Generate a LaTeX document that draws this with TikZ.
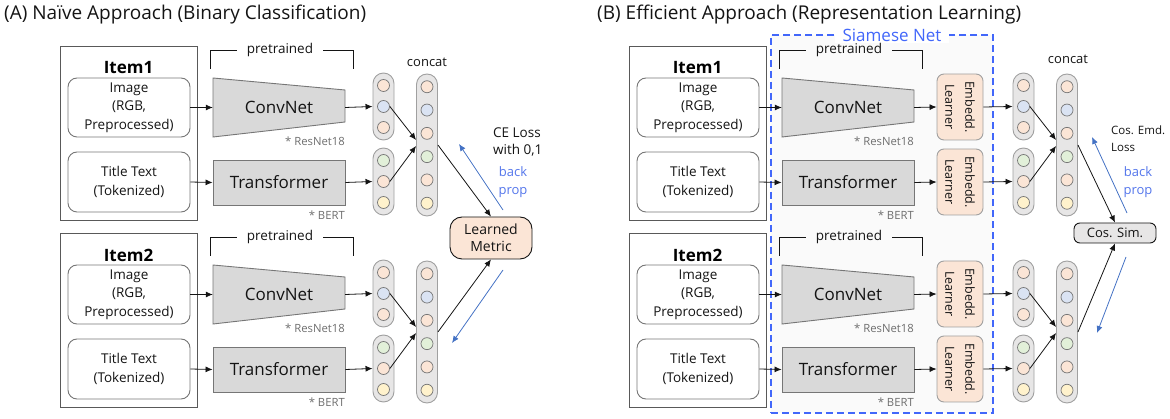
\documentclass[tikz,border=0pt]{standalone}
\usepackage{fontspec}
\setmainfont{Open Sans}
\usetikzlibrary{arrows.meta, positioning, calc}

\definecolor{textDark}{RGB}{20,20,20}
\definecolor{peach}{RGB}{251,229,214}
\definecolor{paleBlue}{RGB}{218,227,243}
\definecolor{paleGreen}{RGB}{226,240,217}
\definecolor{paleYellow}{RGB}{255,242,204}
\definecolor{encGray}{RGB}{217,217,217}
\definecolor{capGray}{RGB}{231,230,230}
\definecolor{capLine}{RGB}{160,160,160}
\definecolor{lineGray}{RGB}{118,118,118}
\definecolor{boxLine}{RGB}{89,89,89}
\definecolor{noteGray}{RGB}{110,110,110}
\definecolor{siamBlue}{RGB}{66,103,250}
\definecolor{siamFill}{RGB}{250,250,250}
\definecolor{propBlue}{RGB}{68,114,196}
\definecolor{propText}{RGB}{84,118,235}

\tikzset{
  headline/.style = {
    font=\fontsize{19}{22}\selectfont,
    text=textDark,
    inner sep=0,
  },
  itemBox/.style = {
    draw=boxLine,
    line width=.9pt,
    minimum width=137,
    minimum height=174,
    inner sep=0,
  },
  itemLabel/.style = {
    font=\fontsize{17}{20}\selectfont\bfseries,
    text=black,
  },
  inputBox/.style = {
    draw=lineGray,
    line width=.9pt,
    rounded corners=9pt,
    align=center,
    minimum width=122,
    inner sep=0,
    font=\fontsize{13.5}{18.5}\selectfont,
    text=textDark,
  },
  encoder/.style = {
    draw=lineGray,
    fill=encGray,
    line width=.9pt,
  },
  encText/.style = {
    font=\fontsize{17}{20}\selectfont,
    text=textDark,
    minimum width=132,
    inner sep=0,
  },
  note/.style = {
    font=\fontsize{11.3}{13}\selectfont,
    text=noteGray,
    anchor=east,
    inner sep=0,
  },
  pretrained/.style = {
    font=\fontsize{13.5}{16}\selectfont,
    text=textDark,
    inner xsep=10pt,
  },
  bracket/.style = {
    draw=textDark,
    line width=.9pt,
  },
  capsule/.style = {
    draw=capLine,
    fill=capGray,
    line width=.9pt,
    rounded corners=10.5pt,
    minimum width=21,
    inner sep=0,
  },
  dot/.style = {
    circle,
    draw=lineGray,
    line width=.7pt,
    minimum size=12,
    inner sep=0,
  },
  smallText/.style = {
    font=\fontsize{13}{17}\selectfont,
    text=textDark,
    align=left,
    inner sep=0,
  },
  propLabel/.style = {
    font=\fontsize{13}{18}\selectfont,
    text=propText,
    align=center,
    inner sep=0,
  },
  metricBox/.style = {
    draw=textDark,
    fill=peach,
    line width=.9pt,
    rounded corners=12pt,
    align=center,
    minimum width=82,
    minimum height=42,
    inner sep=0,
    font=\fontsize{14}{17}\selectfont,
    text=textDark,
  },
  simBox/.style = {
    draw=textDark,
    fill=capGray,
    line width=.9pt,
    rounded corners=6pt,
    minimum width=82,
    minimum height=20,
    inner sep=0,
    font=\fontsize{13}{15}\selectfont,
    text=textDark,
  },
  embedBox/.style = {
    draw=capLine,
    fill=peach,
    line width=.9pt,
    rounded corners=7pt,
    rotate=-90,
    align=center,
    minimum width=66,
    minimum height=46,
    inner sep=0,
    font=\fontsize{12.5}{20}\selectfont,
    text=textDark,
  },
  siamBox/.style = {
    draw=siamBlue,
    fill=siamFill,
    line width=2pt,
    dash pattern=on 7pt off 4pt,
    minimum width=222,
    minimum height=378,
    inner sep=0,
  },
  siamLabel/.style = {
    fill=white,
    text=siamBlue,
    font=\fontsize{17}{20}\selectfont,
    inner xsep=8pt,
    inner ysep=2pt,
  },
  flow/.style = {
    -{Latex[length=7pt, width=6pt]},
    draw=textDark,
    line width=.8pt,
  },
  backProp/.style = {
    -{Latex[length=7pt, width=6pt]},
    draw=propBlue,
    line width=.8pt,
  },
}

\newcommand{\itemEnc}[1]{
  \node(Item)[itemBox] at (128.5,133) {};
  \node(Label)[itemLabel] at (128.5,68) {#1};
  \node(Img)[inputBox, minimum height=59] at (129,107.5) {Image\\(RGB,\\Preprocessed)};
  \node(Title)[inputBox, minimum height=60] at (129,182) {Title Text\\(Tokenized)};
  \path[encoder] (213,78) -- (345,90) -- (345,122) -- (213,137) -- cycle;
  \node(ConvNet)[encText, minimum height=59] at (279,107.5) {ConvNet};
  \node(Trans)[encoder, encText, minimum height=45] at (279,182.5) {Transformer};
  \node(Res)[note] at (345,141) {* ResNet18};
  \node(Bert)[note] at (345,215.5) {* BERT};
  \node(Pre)[pretrained] at (280,50) {pretrained};
  \draw[bracket] (Pre.west) -- (210,50) -- (210,69);
  \draw[bracket] (Pre.east) -- (353,50) -- (353,69);
  \draw[flow] (Img.east) -- (ConvNet.west);
  \draw[flow] (Title.east) -- (Trans.west);
}

\newcommand{\vecStack}{
  \node(VecA)[capsule, minimum height=67] at (383.5,106.5) {};
  \node(VecB)[capsule, minimum height=67] at (383.5,181.5) {};
  \node(Concat)[capsule, minimum height=142] at (427,145) {};
  \foreach \c [count=\i] in {peach,paleBlue,peach}
    \node(VecA-\i)[dot, fill=\c] at ($(VecA)+(0,{(\i-2)*21})$) {};
  \foreach \c [count=\i] in {paleGreen,peach,paleYellow}
    \node(VecB-\i)[dot, fill=\c] at ($(VecB)+(0,{(\i-2)*21})$) {};
  \foreach \c [count=\i] in {peach,paleBlue,peach,paleGreen,peach,paleYellow}
    \node(Concat-\i)[dot, fill=\c] at ($(Concat)+(0,{(\i-3.5)*23.3})$) {};
  \draw[flow] (VecA-2.east) -- ($(Concat.west)+(0,-5)$);
  \draw[flow] (VecB-2.east) -- ($(Concat.west)+(0,1)$);
}

\begin{document}
\begin{tikzpicture}[x=1pt, y=-1pt]

\useasboundingbox (0,0) rectangle (1170,419);

\node(HeadA)[headline, anchor=west] at (4,15) {(A) Naïve Approach (Binary Classification)};
\node(HeadB)[headline, anchor=west] at (597,15) {(B) Efficient Approach (Representation Learning)};

\node(Siamese)[siamBox] at (882,224) {};
\node(SiamLabel)[siamLabel] at (892,35) {Siamese Net};

% (A)
\foreach \r/\dy in {1/0, 2/187} {
  \begin{scope}[shift={(0,\dy)}, name prefix=A\r-]
    \itemEnc{Item\r}
    \vecStack
    \draw[flow] (ConvNet.east) -- (VecA.west);
    \draw[flow] (Trans.east) -- (VecB.west);
  \end{scope}
}

\node(ConcatA)[smallText] at (427,62) {concat};
\node(Metric)[metricBox] at (491,238) {Learned\\Metric};
\draw[flow] (A1-Concat.east) -- (Metric.north);
\draw[flow] (A2-Concat.east) -- (Metric.south);

\coordinate(PropA1) at (503,210);
\coordinate(PropA2) at (459,144);
\coordinate(PropA3) at (503,270);
\coordinate(PropA4) at (452,343);
\draw[backProp] (PropA1) -- (PropA2);
\draw[backProp] (PropA3) -- (PropA4);
\node(LossA)[smallText, font=\fontsize{13.5}{17}\selectfont, anchor=west] at (493,141.5) {CE Loss\\with 0,1};
\node(BackA)[propLabel] at (513,182) {back\\prop};

% (B)
\foreach \r/\dy in {1/0, 2/187} {
  \begin{scope}[shift={(569,\dy)}, name prefix=B\r-]
    \itemEnc{Item\r}
  \end{scope}
  \begin{scope}[shift={(640,\dy)}, name prefix=B\r-]
    \vecStack
  \end{scope}
  \begin{scope}[shift={(0,\dy)}, name prefix=B\r-]
    \node(EmbA)[embedBox] at (960,107) {Embedd.\\Learner};
    \node(EmbB)[embedBox] at (960,182) {Embedd.\\Learner};
    \draw[flow] (ConvNet.east) -- (EmbA.south);
    \draw[flow] (Trans.east) -- (EmbB.south);
    \draw[flow] (EmbA.north) -- (VecA.west);
    \draw[flow] (EmbB.north) -- (VecB.west);
  \end{scope}
}

\node(ConcatB)[smallText] at (1068,59) {concat};
\node(CosSim)[simBox] at (1115,233) {Cos. Sim.};
\draw[flow] (B1-Concat.east) -- (CosSim.north);
\draw[flow] (B2-Concat.east) -- (CosSim.south);

\coordinate(PropB1) at (1127,213);
\coordinate(PropB2) at (1092,137);
\coordinate(PropB3) at (1126,257);
\coordinate(PropB4) at (1097,333);
\draw[backProp] (PropB1) -- (PropB2);
\draw[backProp] (PropB3) -- (PropB4);
\node(LossB)[smallText, font=\fontsize{11.5}{17}\selectfont, anchor=west] at (1111,139) {Cos. Emd.\\Loss};
\node(BackB)[propLabel] at (1138,182) {back\\prop};

\end{tikzpicture}
\end{document}
